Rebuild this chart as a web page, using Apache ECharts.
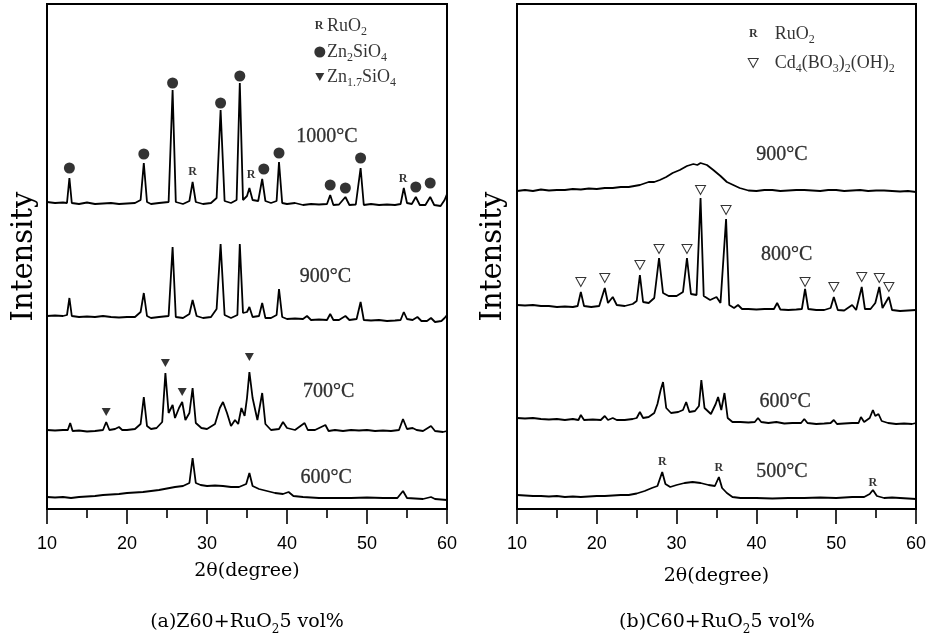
<!DOCTYPE html>
<html>
<head>
<meta charset="utf-8">
<script src="https://cdn.jsdelivr.net/npm/echarts@6/dist/echarts.min.js"></script>
<style>html,body{margin:0;padding:0;background:#fff}#c{width:931px;height:638px}</style>
</head>
<body>
<div id="c"></div>
<script>
// ---------- DATA (2θ in degrees, intensity in arbitrary units) ----------
const a1000 = [[10,306],[11,305],[12,305.5],[12.5,305],[12.8,330],[13.1,305],[14,304],[15,305.5],[16,304],[17,304.5],[18,305],[19,304],[20,304.5],[21,305],[21.7,308],[22.1,345],[22.5,306],[23,304],[24,305],[25.2,306],[25.7,418],[26.1,306],[27,304],[27.8,307],[28.2,326],[28.6,306],[29.5,304],[30.5,305],[31.2,310],[31.7,398],[32.2,307],[33,305],[33.7,308],[34.1,425],[34.5,308],[35.0,312],[35.3,320],[35.7,308],[36.4,307],[36.9,329],[37.3,307],[38,305],[38.7,307],[39.0,346],[39.4,305],[40,304],[41,305],[42,303],[43,304],[44,303.5],[45,304],[45.4,313],[45.8,303],[46.5,303.5],[47.3,311],[47.8,303],[48.6,303.5],[49.2,340],[49.6,303],[50.5,304],[51.5,303],[52.5,303.5],[53.5,303],[54.2,304],[54.6,320],[55,305],[55.6,304],[56.1,311],[56.6,303],[57.3,303],[57.9,311],[58.4,303],[59.2,302],[59.7,308],[60,314]];
const a900 = [[10,192],[11,192.5],[12,192],[12.5,193],[12.8,210],[13.1,192],[14,191],[15,191.5],[16,191],[17,192],[18,191],[19,190.5],[20,191],[21,191],[21.7,196],[22.1,215],[22.5,192],[23,190],[24,191],[25.2,192],[25.7,261],[26.1,191],[27,190],[27.8,194],[28.2,208],[28.7,192],[29.5,190],[30.5,191],[31.2,199],[31.7,264],[32.2,193],[33,190],[33.8,193],[34.1,264],[34.5,195],[35.0,196],[35.3,201],[35.7,191],[36.5,192],[36.9,205],[37.3,190],[38,190],[38.7,193],[39.0,219],[39.4,191],[40,189],[41,189.5],[42,189],[42.5,192],[43,188],[44,188.5],[45,188],[45.4,194],[45.8,188],[46.5,188],[47.3,192],[47.8,188],[48.7,189],[49.2,206],[49.6,188],[50.5,187.5],[51.5,188],[52.5,187],[53.5,187.5],[54.2,188],[54.6,196],[55,189],[55.7,188],[56.3,191],[56.8,187],[57.5,187],[58.0,190],[58.5,186],[59.3,187],[59.7,190],[60,193]];
const a700 = [[10,78],[11,77.5],[12,78],[12.6,78],[12.9,85],[13.2,77],[14,77.5],[15,76.5],[16,77],[17,78],[17.4,86],[17.8,78],[18.5,79],[19,81],[19.4,78],[20,78],[21,79],[21.7,84],[22.1,111],[22.5,82],[23,79],[23.7,80],[24.4,86],[24.8,135],[25.2,95],[25.7,103],[26.0,90],[26.5,100],[26.9,106],[27.3,88],[27.8,95],[28.2,120],[28.6,85],[29.3,80],[30,79],[31,84],[31.6,100],[32.0,106],[32.5,95],[33.0,82],[33.5,88],[33.9,84],[34.3,100],[34.7,92],[35.0,110],[35.3,136],[35.7,110],[36.3,88],[36.9,115],[37.3,84],[38,78],[39,79],[39.5,86],[40,80],[41,78],[42.2,85],[42.6,78],[43.5,78],[44.8,83],[45.2,77],[46,78],[47,77],[48,78],[49,77.5],[50,78],[51,77],[52,77.5],[53,77],[54,78],[54.5,89],[55,79],[55.7,80],[56.2,78],[57,77],[58.0,82],[58.5,77],[59.5,76],[60,77]];
const a600 = [[10,11],[11,10.5],[12,11],[13,10],[14,11],[15,11.5],[16,12],[17,13],[18,13.5],[19,14],[20,15],[21,15.5],[22,16],[23,17],[24,18],[25,19.5],[26,21],[27,22],[27.8,25],[28.2,50],[28.6,25],[29.2,23],[30,22],[31,22.5],[32,22],[33,21],[34,21],[34.9,24],[35.3,35],[35.7,22],[36.5,19],[37.5,17],[38.5,15],[39.5,14],[40.2,16],[40.8,12],[42,11],[44,10],[46,10],[48,10],[50,10.5],[52,10],[53.8,10],[54.5,17],[55,10],[56,9.5],[57,9],[58,11],[58.5,9],[60,8]];

const b900 = [[10,317],[11,318],[12,317],[13,318.5],[14,317.5],[15,318],[16,318],[17,319],[18,318.5],[19,319.5],[20,319],[21,320],[22,320],[23,321],[24,321],[25.4,323],[26.5,326],[27.2,326],[27.9,328],[28.7,331],[29.5,335],[30.4,338],[31.3,342],[32.1,344],[32.6,343],[33,345],[33.8,343],[34.6,338],[35.5,332],[36.3,326],[37.1,323],[37.9,320],[39,317.5],[40,317],[41,318],[42,318],[43,317],[44,317.5],[45,318],[46,318],[47,317.5],[48,317],[49,318],[50,318],[51,317],[52,317.5],[53,318],[54,317],[55,317.5],[56,317.5],[57,317],[58,316.5],[59,317],[60,316]];
const b800 = [[10,203],[11,202.5],[12,203],[13,202],[14,202],[15,201],[16,201.5],[17,201],[17.6,202],[18.0,216],[18.4,202],[19.3,201],[20.3,202],[21.0,220],[21.4,205],[22.0,211],[22.5,203],[23.5,202],[24.5,204],[25.0,207],[25.4,233],[25.8,206],[26.5,205],[27.2,210],[27.8,250],[28.3,215],[29,212],[30,212],[30.8,216],[31.3,250],[31.8,214],[32.5,213],[33.0,310],[33.4,212],[34.2,208],[35.0,211],[35.5,205],[36.2,289],[36.6,203],[37.2,200],[37.7,203],[38.2,199],[39,199],[40,198.5],[41,199],[42.2,199],[42.6,205],[43,198.5],[44,198],[45,198.5],[45.7,199],[46.1,219],[46.5,199],[47.5,198],[48.5,198],[49.3,200],[49.7,211],[50.2,198],[51,197.5],[52,203],[52.5,198],[53.2,221],[53.6,199],[54.3,199],[54.9,205],[55.4,221],[55.8,200],[56.6,211],[57,198],[58,197],[59,197.5],[60,198]];
const b600 = [[10,90],[11,89.5],[12,90],[13,89],[14,88.5],[15,89],[16,88],[17,89],[17.7,88],[18.0,93],[18.4,88],[19.5,88.5],[20.5,88],[21.0,92],[21.4,88],[22,90],[22.5,88],[23.5,88],[24.5,89],[25.0,90],[25.4,96],[25.8,90],[26.5,91],[27.2,95],[27.6,104],[28.0,118],[28.3,126],[28.7,100],[29.3,95],[30.2,96],[30.8,98],[31.2,106],[31.6,96],[32.3,97],[32.8,102],[33.1,128],[33.5,100],[34.3,94],[34.9,104],[35.2,111],[35.6,98],[36.0,115],[36.4,90],[37,86],[38,86],[39,85.5],[39.8,86],[40.2,90],[40.6,86],[41.5,85],[42.5,86],[43.5,84.5],[44.5,85],[45.6,85],[46.0,89],[46.4,85],[47.5,84],[48.5,84.5],[49.3,85],[49.7,88],[50.1,84],[51,84.5],[52,85],[52.8,85],[53.1,91],[53.5,86],[54.2,90],[54.6,98],[54.9,92],[55.3,94],[55.7,87],[56.5,85],[57.5,84],[58.5,84.5],[59.5,84],[60,85]];
const b500 = [[10,13],[11,12.5],[12,12],[13,12],[14,11.5],[15,12],[16,11],[17,11.5],[18,11],[19,11.5],[20,12],[21,12],[22,12.5],[23,13],[24,13],[25,14.5],[26,17],[26.9,20],[27.6,22],[28.2,36],[28.6,24],[29.2,21],[30,23],[31,25],[32,26],[33,25],[34,23],[34.8,22],[35.3,31],[35.7,20],[36.3,15],[37,11],[38,10],[40,10],[42,9.5],[44,10],[46,10],[48,10.5],[50,10],[52,11],[53.5,11],[54.2,14],[54.6,18],[55.1,12],[56,10],[57,10.5],[58,10],[59,9.5],[60,9]];

// phase markers (2θ, height of the marker)
const aZn2SiO4 = [[12.8,340],[22.1,354],[25.7,425],[31.7,405],[34.1,432],[37.1,339],[39.0,355],[45.4,323],[47.3,320],[49.2,350],[56.1,321],[57.9,325]];
const aZn17SiO4 = [[17.4,96],[24.8,145],[26.9,116],[35.3,151]];
const aRuO2 = [[28.2,336],[35.5,333],[54.5,329]];
const bCdBO = [[18.0,226],[21.0,230],[25.4,243],[27.8,259],[31.3,259],[33.0,318],[36.2,298],[46.1,226],[49.7,221],[53.2,231],[55.4,230],[56.6,221]];
const bRuO2 = [[28.2,46],[35.3,40],[54.6,25]];

// temperature labels
const aTemps = [[45.0,371,'1000°C'],[44.8,231,'900°C'],[45.2,116,'700°C'],[44.9,30,'600°C']];
const bTemps = [[43.2,353,'900°C'],[43.8,253,'800°C'],[43.6,106,'600°C'],[43.2,36,'500°C']];

const xMin = 10, xMax = 60, xStep = 10;
const xName = '2θ(degree)';
const yName = 'Intensity';
const captions = ['(a)Z60+RuO|2|5 vol%', '(b)C60+RuO|2|5 vol%'];

// ---------- CHART ----------
const SERIF = 'Liberation Serif, Times New Roman, serif';
const WSERIF = 'DejaVu Serif, serif';
const SANS = 'Liberation Sans, Arial, sans-serif';
const rich = {
  n: {fontFamily: SERIF, fontSize: 18, color: '#000', lineHeight: 24},
  s: {fontFamily: SERIF, fontSize: 12, color: '#000', verticalAlign: 'bottom'}
};
function sub(str) { // "RuO|2|" -> rich text
  const parts = str.split('|');
  return parts.map((p, i) => p === '' ? '' : (i % 2 ? '{s|' + p + '}' : '{n|' + p + '}')).join('');
}

const chart = echarts.init(document.getElementById('c'), null, {renderer: 'canvas'});

function xAxisFor(gi, gap) {
  return {
    gridIndex: gi, type: 'value', min: xMin, max: xMax, interval: xStep,
    name: xName, nameLocation: 'middle', nameGap: gap,
    nameTextStyle: {fontFamily: WSERIF, fontSize: 19, color: '#000'},
    axisLine: {onZero: false, lineStyle: {color: '#000', width: 2}},
    axisTick: {inside: false, length: 15, lineStyle: {color: '#000', width: 1.6}},
    minorTick: {show: true, splitNumber: 2, length: 9, lineStyle: {color: '#000', width: 1.6}},
    axisLabel: {margin: 26, fontFamily: SANS, fontSize: 18, color: '#000'},
    splitLine: {show: false}, minorSplitLine: {show: false}
  };
}
function yAxisFor(gi, gap) {
  return {
    gridIndex: gi, type: 'value', min: -1, max: 504,
    name: yName, nameLocation: 'middle', nameGap: gap, nameRotate: 90,
    nameTextStyle: {fontFamily: WSERIF, fontSize: 29, color: '#000'},
    axisLine: {show: false}, axisTick: {show: false}, axisLabel: {show: false},
    splitLine: {show: false}
  };
}
function trace(gi, data) {
  return {type: 'line', xAxisIndex: gi, yAxisIndex: gi, data: data, showSymbol: false, symbol: 'none',
    lineStyle: {color: '#000', width: 1.8}, animation: false, silent: true, z: 3};
}
function marks(gi, data, opt) {
  return Object.assign({type: 'scatter', xAxisIndex: gi, yAxisIndex: gi, data: data, animation: false, silent: true, z: 5}, opt);
}
function textMarks(gi, data, txt, style) {
  return marks(gi, data, {symbolSize: 0.1, itemStyle: {color: 'transparent'},
    label: Object.assign({show: true, position: 'inside', formatter: txt, color: '#000'}, style)});
}
function tempLabels(gi, data) {
  return marks(gi, data, {symbolSize: 0.1, itemStyle: {color: 'transparent'},
    label: {show: true, position: 'inside', formatter: p => p.value[2], fontFamily: SERIF, fontSize: 20, color: '#000',
      textBorderColor: '#000', textBorderWidth: 0.3}});
}
function legendText(gi, x, y, str) {
  return marks(gi, [[x, y]], {symbolSize: 0.1, itemStyle: {color: 'transparent'},
    label: {show: true, position: 'right', distance: 0, align: 'left', verticalAlign: 'middle', formatter: sub(str), rich: rich}});
}
const Rstyle = {fontFamily: SERIF, fontWeight: 'bold', fontSize: 12};

const option = {
  backgroundColor: '#fff',
  animation: false,
  grid: [
    {left: 47, top: 4, width: 400, height: 505, show: true, borderColor: '#000', borderWidth: 2, backgroundColor: 'transparent'},
    {left: 517, top: 4, width: 399, height: 505, show: true, borderColor: '#000', borderWidth: 2, backgroundColor: 'transparent'}
  ],
  xAxis: [xAxisFor(0, 53), xAxisFor(1, 58)],
  yAxis: [yAxisFor(0, 8), yAxisFor(1, 9)],
  series: [
    trace(0, a1000), trace(0, a900), trace(0, a700), trace(0, a600),
    trace(1, b900), trace(1, b800), trace(1, b600), trace(1, b500),
    marks(0, aZn2SiO4, {symbol: 'circle', symbolSize: 11, itemStyle: {color: '#000'}}),
    marks(0, aZn17SiO4, {symbol: 'triangle', symbolRotate: 180, symbolSize: [9, 8], itemStyle: {color: '#000'}}),
    textMarks(0, aRuO2, 'R', Rstyle),
    marks(1, bCdBO, {symbol: 'triangle', symbolRotate: 180, symbolSize: [10, 9], itemStyle: {color: '#fff', borderColor: '#000', borderWidth: 1}}),
    textMarks(1, bRuO2, 'R', Rstyle),
    tempLabels(0, aTemps), tempLabels(1, bTemps),
    // legends
    textMarks(0, [[44.0, 482]], 'R', Rstyle),
    legendText(0, 45.0, 482, 'RuO|2|'),
    marks(0, [[44.1, 456]], {symbol: 'circle', symbolSize: 11, itemStyle: {color: '#000'}}),
    legendText(0, 45.0, 456, 'Zn|2|SiO|4|'),
    marks(0, [[44.1, 431]], {symbol: 'triangle', symbolRotate: 180, symbolSize: [9, 8], itemStyle: {color: '#000'}}),
    legendText(0, 45.0, 431, 'Zn|1.7|SiO|4|'),
    textMarks(1, [[39.6, 474]], 'R', Rstyle),
    legendText(1, 42.3, 474, 'RuO|2|'),
    marks(1, [[39.6, 445]], {symbol: 'triangle', symbolRotate: 180, symbolSize: [10, 9], itemStyle: {color: '#fff', borderColor: '#000', borderWidth: 1}}),
    legendText(1, 42.3, 445, 'Cd|4|(BO|3|)|2|(OH)|2|')
  ],
  graphic: captions.map((c, i) => {
    const parts = c.split('|');
    return {
      type: 'text', x: i === 0 ? 247 : 717, y: 622, silent: true,
      style: {
        text: '{c|' + parts[0] + '}{cs|' + parts[1] + '}{c|' + parts[2] + '}',
        align: 'center', verticalAlign: 'middle',
        rich: {
          c: {fontFamily: WSERIF, fontSize: 19, fill: '#000', color: '#000', lineHeight: 28},
          cs: {fontFamily: WSERIF, fontSize: 12, fill: '#000', color: '#000', verticalAlign: 'bottom'}
        }
      }
    };
  })
};
chart.setOption(option);
</script>
</body>
</html>
